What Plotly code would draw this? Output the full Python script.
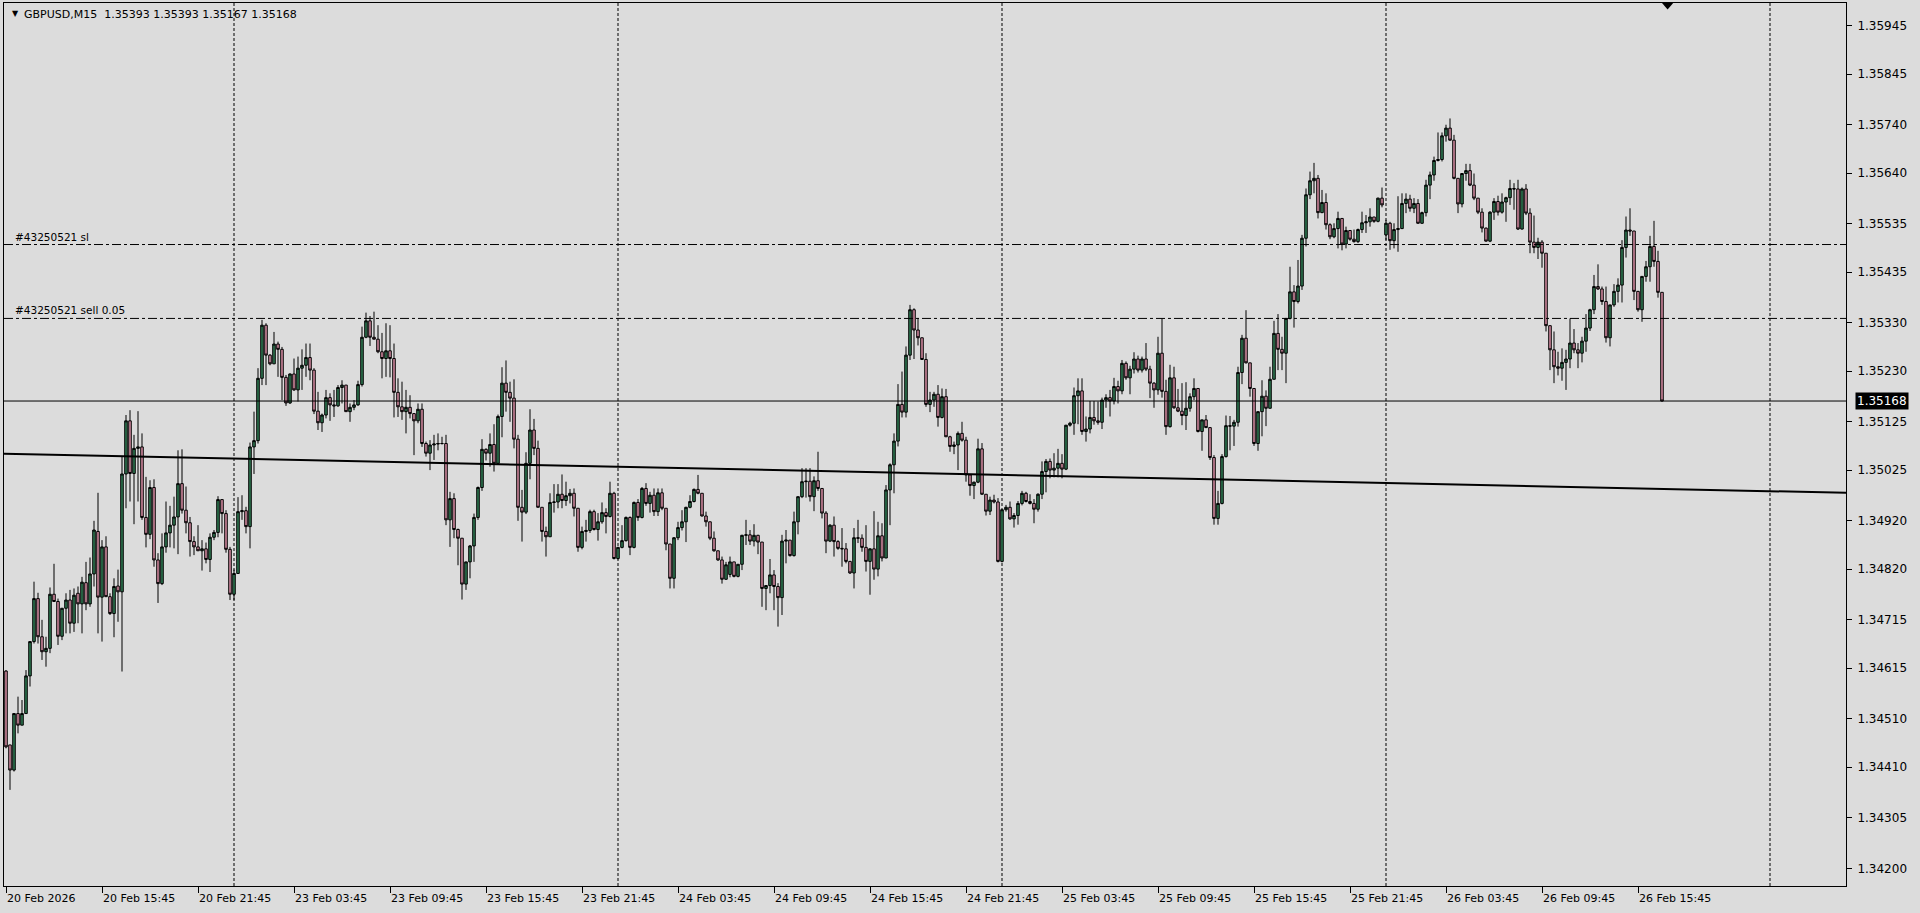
import plotly.graph_objects as go

# ---------------- data (GBPUSD M15) ----------------
open_ = [
1.34609,1.34456,1.34404,1.34521,1.34497,1.34521,1.34599,1.34670,1.34759,1.34680,
1.34649,1.34656,1.34768,1.34753,1.34681,1.34739,1.34756,1.34708,1.34770,1.34748,
1.34792,1.34748,1.34810,1.34898,1.34762,1.34866,1.34763,1.34728,1.34785,1.34773,
1.35017,1.35127,1.35018,1.35070,1.35073,1.34927,1.34892,1.34989,1.34839,1.34790,
1.34866,1.34895,1.34911,1.34928,1.34997,1.34942,1.34916,1.34877,1.34866,1.34858,
1.34862,1.34840,1.34886,1.34896,1.34964,1.34935,1.34861,1.34768,1.34811,1.34939,
1.34941,1.34908,1.35073,1.35086,1.35215,1.35325,1.35263,1.35245,1.35286,1.35275,
1.35217,1.35164,1.35224,1.35191,1.35236,1.35242,1.35258,1.35232,1.35147,1.35123,
1.35139,1.35175,1.35160,1.35158,1.35196,1.35201,1.35146,1.35155,1.35160,1.35202,
1.35300,1.35334,1.35300,1.35296,1.35270,1.35256,1.35272,1.35256,1.35186,1.35156,
1.35146,1.35155,1.35142,1.35127,1.35151,1.35080,1.35060,1.35077,1.35079,1.35080,
1.35080,1.34922,1.34966,1.34902,1.34884,1.34789,1.34835,1.34868,1.34927,1.34989,
1.35068,1.35060,1.35078,1.35039,1.35136,1.35205,1.35186,1.35174,1.35089,1.34948,
1.34938,1.35039,1.35108,1.35070,1.34948,1.34898,1.34887,1.34958,1.34959,1.34975,
1.34962,1.34972,1.34977,1.34946,1.34865,1.34898,1.34900,1.34939,1.34902,1.34918,
1.34937,1.34929,1.34977,1.34842,1.34865,1.34879,1.34927,1.34865,1.34958,1.34927,
1.34987,1.34956,1.34973,1.34939,1.34978,1.34946,1.34872,1.34801,1.34885,1.34906,
1.34918,1.34948,1.34960,1.34985,1.34977,1.34930,1.34918,1.34884,1.34858,1.34839,
1.34799,1.34809,1.34835,1.34805,1.34830,1.34890,1.34891,1.34878,1.34890,1.34876,
1.34780,1.34786,1.34808,1.34784,1.34761,1.34878,1.34880,1.34848,1.34918,1.34970,
1.35001,1.35002,1.34970,1.35003,1.34987,1.34936,1.34878,1.34911,1.34877,1.34863,
1.34862,1.34836,1.34812,1.34885,1.34884,1.34865,1.34836,1.34862,1.34820,1.34889,
1.34843,1.34984,1.35036,1.35085,1.35161,1.35145,1.35263,1.35357,1.35315,1.35299,
1.35254,1.35161,1.35170,1.35182,1.35134,1.35177,1.35094,1.35074,1.35077,1.35101,
1.35087,1.35015,1.34993,1.35000,1.35069,1.34975,1.34940,1.34963,1.34959,1.34836,
1.34943,1.34948,1.34924,1.34931,1.34956,1.34977,1.34960,1.34956,1.34944,1.34975,
1.35022,1.35043,1.35025,1.35029,1.35039,1.35027,1.35118,1.35122,1.35179,1.35189,
1.35105,1.35110,1.35134,1.35127,1.35124,1.35170,1.35175,1.35168,1.35198,1.35189,
1.35246,1.35216,1.35234,1.35255,1.35232,1.35255,1.35234,1.35205,1.35191,1.35267,
1.35188,1.35115,1.35216,1.35154,1.35147,1.35138,1.35153,1.35177,1.35194,1.35105,
1.35129,1.35113,1.35051,1.34925,1.34956,1.35053,1.35117,1.35116,1.35124,1.35227,
1.35298,1.35247,1.35194,1.35080,1.35146,1.35178,1.35153,1.35213,1.35308,1.35275,
1.35267,1.35339,1.35394,1.35374,1.35406,1.35505,1.35595,1.35624,1.35629,1.35558,
1.35579,1.35533,1.35508,1.35525,1.35546,1.35493,1.35521,1.35503,1.35498,1.35523,
1.35537,1.35539,1.35549,1.35540,1.35588,1.35512,1.35536,1.35500,1.35523,1.35525,
1.35577,1.35586,1.35567,1.35577,1.35536,1.35558,1.35615,1.35636,1.35666,1.35668,
1.35717,1.35733,1.35708,1.35629,1.35576,1.35639,1.35645,1.35615,1.35588,1.35559,
1.35526,1.35499,1.35559,1.35581,1.35559,1.35580,1.35589,1.35608,1.35607,1.35524,
1.35607,1.35557,1.35497,1.35486,1.35497,1.35474,1.35324,1.35274,1.35239,1.35236,
1.35248,1.35255,1.35288,1.35274,1.35267,1.35292,1.35319,1.35357,1.35405,1.35400,
1.35374,1.35299,1.35367,1.35395,1.35408,1.35486,1.35522,1.35520,1.35395,1.35357,
1.35426,1.35446,1.35488,1.35457,1.35393,
]

high = [
1.34611,1.34456,1.34521,1.34556,1.34549,1.34611,1.34670,1.34794,1.34771,1.34715,
1.34680,1.34782,1.34831,1.34759,1.34739,1.34770,1.34777,1.34780,1.34784,1.34804,
1.34835,1.34844,1.34920,1.34978,1.34880,1.34888,1.34770,1.34801,1.34819,1.35053,
1.35139,1.35149,1.35098,1.35147,1.35101,1.35011,1.35004,1.35006,1.34853,1.34894,
1.34960,1.34951,1.34970,1.35066,1.35068,1.34991,1.34928,1.34888,1.34911,1.34880,
1.34875,1.34894,1.34901,1.34971,1.34964,1.34942,1.34866,1.34819,1.34969,1.34973,
1.34949,1.35082,1.35146,1.35236,1.35336,1.35329,1.35265,1.35311,1.35291,1.35280,
1.35222,1.35225,1.35256,1.35260,1.35275,1.35287,1.35287,1.35236,1.35187,1.35142,
1.35191,1.35184,1.35191,1.35201,1.35211,1.35201,1.35163,1.35170,1.35210,1.35322,
1.35351,1.35344,1.35353,1.35325,1.35309,1.35329,1.35325,1.35287,1.35215,1.35208,
1.35191,1.35180,1.35142,1.35163,1.35163,1.35084,1.35087,1.35098,1.35101,1.35094,
1.35098,1.34980,1.34977,1.34904,1.34884,1.34835,1.34870,1.34935,1.34991,1.35089,
1.35070,1.35101,1.35120,1.35140,1.35238,1.35252,1.35208,1.35213,1.35098,1.34984,
1.35062,1.35151,1.35131,1.35086,1.34948,1.34908,1.34977,1.34996,1.34996,1.35016,
1.35001,1.34986,1.34987,1.34946,1.34908,1.34922,1.34943,1.34943,1.34936,1.34958,
1.34946,1.35001,1.34980,1.34866,1.34911,1.34929,1.34929,1.34960,1.34965,1.34990,
1.34998,1.34980,1.34987,1.34987,1.34987,1.34946,1.34872,1.34886,1.34918,1.34942,
1.34949,1.34973,1.34987,1.35015,1.34977,1.34939,1.34918,1.34898,1.34858,1.34846,
1.34835,1.34846,1.34835,1.34830,1.34891,1.34922,1.34901,1.34913,1.34891,1.34876,
1.34787,1.34841,1.34818,1.34791,1.34891,1.34901,1.34880,1.34939,1.34970,1.35029,
1.35029,1.35029,1.35012,1.35063,1.34987,1.34940,1.34913,1.34929,1.34880,1.34905,
1.34874,1.34837,1.34905,1.34922,1.34892,1.34911,1.34863,1.34940,1.34918,1.34915,
1.34994,1.35039,1.35101,1.35203,1.35229,1.35281,1.35367,1.35360,1.35340,1.35299,
1.35267,1.35187,1.35187,1.35201,1.35194,1.35193,1.35096,1.35084,1.35105,1.35125,
1.35094,1.35015,1.35001,1.35090,1.35081,1.34975,1.34970,1.34974,1.34967,1.34943,
1.34953,1.34960,1.34936,1.34961,1.34982,1.34980,1.34975,1.34965,1.34977,1.35043,
1.35048,1.35049,1.35060,1.35069,1.35058,1.35118,1.35125,1.35196,1.35215,1.35215,
1.35136,1.35168,1.35168,1.35167,1.35175,1.35182,1.35191,1.35216,1.35210,1.35253,
1.35250,1.35241,1.35269,1.35262,1.35260,1.35288,1.35241,1.35207,1.35301,1.35339,
1.35212,1.35243,1.35239,1.35193,1.35205,1.35207,1.35184,1.35215,1.35194,1.35129,
1.35139,1.35113,1.35056,1.34982,1.35058,1.35138,1.35137,1.35129,1.35239,1.35305,
1.35356,1.35247,1.35194,1.35146,1.35211,1.35190,1.35239,1.35334,1.35348,1.35301,
1.35339,1.35446,1.35408,1.35460,1.35512,1.35608,1.35643,1.35661,1.35636,1.35605,
1.35598,1.35536,1.35536,1.35560,1.35546,1.35529,1.35522,1.35523,1.35525,1.35560,
1.35553,1.35567,1.35549,1.35589,1.35610,1.35543,1.35539,1.35536,1.35592,1.35598,
1.35598,1.35595,1.35588,1.35586,1.35560,1.35626,1.35643,1.35674,1.35724,1.35724,
1.35740,1.35753,1.35719,1.35629,1.35640,1.35659,1.35659,1.35639,1.35588,1.35567,
1.35527,1.35561,1.35588,1.35593,1.35598,1.35591,1.35626,1.35619,1.35626,1.35610,
1.35617,1.35567,1.35552,1.35506,1.35501,1.35474,1.35324,1.35312,1.35270,1.35277,
1.35274,1.35339,1.35317,1.35288,1.35301,1.35348,1.35359,1.35429,1.35451,1.35405,
1.35405,1.35367,1.35410,1.35422,1.35501,1.35550,1.35567,1.35520,1.35396,1.35426,
1.35458,1.35510,1.35541,1.35479,1.35393,
]

low = [
1.34449,1.34363,1.34401,1.34480,1.34497,1.34521,1.34577,1.34666,1.34666,1.34632,
1.34618,1.34646,1.34753,1.34663,1.34673,1.34687,1.34687,1.34690,1.34708,1.34687,
1.34735,1.34742,1.34784,1.34687,1.34670,1.34763,1.34725,1.34679,1.34711,1.34608,
1.34946,1.34960,1.34913,1.34960,1.34922,1.34865,1.34882,1.34825,1.34750,1.34787,
1.34854,1.34865,1.34863,1.34851,1.34935,1.34894,1.34846,1.34849,1.34858,1.34817,
1.34832,1.34814,1.34880,1.34886,1.34894,1.34854,1.34756,1.34756,1.34810,1.34922,
1.34894,1.34863,1.35017,1.35080,1.35201,1.35201,1.35242,1.35245,1.35218,1.35170,
1.35158,1.35162,1.35189,1.35167,1.35191,1.35218,1.35211,1.35141,1.35108,1.35104,
1.35132,1.35127,1.35135,1.35156,1.35163,1.35146,1.35125,1.35149,1.35158,1.35198,
1.35298,1.35282,1.35296,1.35267,1.35215,1.35218,1.35217,1.35134,1.35135,1.35129,
1.35101,1.35132,1.35056,1.35122,1.35073,1.35053,1.35025,1.35046,1.35066,1.35078,
1.34911,1.34866,1.34884,1.34828,1.34757,1.34777,1.34801,1.34835,1.34922,1.34982,
1.35045,1.35032,1.35022,1.35038,1.35093,1.35146,1.35125,1.35070,1.34920,1.34877,
1.34934,1.35006,1.35056,1.34948,1.34877,1.34846,1.34887,1.34937,1.34946,1.34946,
1.34951,1.34956,1.34929,1.34856,1.34861,1.34877,1.34895,1.34900,1.34879,1.34914,
1.34894,1.34927,1.34840,1.34840,1.34863,1.34877,1.34849,1.34863,1.34920,1.34925,
1.34951,1.34937,1.34930,1.34930,1.34942,1.34859,1.34780,1.34780,1.34880,1.34900,
1.34876,1.34946,1.34958,1.34975,1.34929,1.34908,1.34880,1.34856,1.34837,1.34790,
1.34798,1.34803,1.34803,1.34803,1.34818,1.34870,1.34870,1.34867,1.34851,1.34742,
1.34735,1.34770,1.34735,1.34701,1.34725,1.34832,1.34846,1.34846,1.34892,1.34967,
1.34968,1.34960,1.34940,1.34982,1.34925,1.34853,1.34876,1.34846,1.34860,1.34825,
1.34832,1.34810,1.34780,1.34874,1.34856,1.34815,1.34767,1.34798,1.34805,1.34836,
1.34843,1.34911,1.34977,1.35074,1.35134,1.35134,1.35253,1.35255,1.35283,1.35253,
1.35156,1.35145,1.35156,1.35115,1.35132,1.35094,1.35063,1.35058,1.35025,1.35084,
1.35001,1.34972,1.34965,1.34998,1.34974,1.34931,1.34932,1.34956,1.34834,1.34834,
1.34939,1.34922,1.34906,1.34912,1.34952,1.34958,1.34954,1.34915,1.34939,1.34965,
1.34979,1.35008,1.35010,1.35010,1.35008,1.35025,1.35115,1.35098,1.35120,1.35098,
1.35084,1.35101,1.35119,1.35119,1.35110,1.35154,1.35136,1.35161,1.35163,1.35182,
1.35212,1.35182,1.35225,1.35227,1.35227,1.35230,1.35174,1.35154,1.35181,1.35175,
1.35098,1.35113,1.35152,1.35145,1.35118,1.35108,1.35146,1.35170,1.35103,1.35065,
1.35112,1.35046,1.34912,1.34912,1.34954,1.35051,1.35066,1.35075,1.35115,1.35203,
1.35246,1.35177,1.35075,1.35065,1.35095,1.35116,1.35153,1.35213,1.35232,1.35232,
1.35205,1.35337,1.35320,1.35370,1.35398,1.35488,1.35586,1.35598,1.35546,1.35557,
1.35523,1.35503,1.35505,1.35484,1.35480,1.35484,1.35500,1.35496,1.35495,1.35516,
1.35516,1.35529,1.35537,1.35538,1.35569,1.35501,1.35481,1.35484,1.35477,1.35524,
1.35557,1.35560,1.35557,1.35535,1.35535,1.35550,1.35586,1.35624,1.35664,1.35664,
1.35705,1.35707,1.35627,1.35557,1.35569,1.35624,1.35613,1.35584,1.35555,1.35517,
1.35498,1.35497,1.35543,1.35552,1.35556,1.35539,1.35574,1.35564,1.35522,1.35523,
1.35553,1.35474,1.35474,1.35462,1.35444,1.35312,1.35232,1.35205,1.35221,1.35210,
1.35191,1.35236,1.35267,1.35236,1.35248,1.35270,1.35313,1.35348,1.35398,1.35367,
1.35289,1.35281,1.35363,1.35372,1.35372,1.35465,1.35510,1.35377,1.35353,1.35332,
1.35415,1.35415,1.35446,1.35382,1.35167,
]

close = [
1.34452,1.34404,1.34521,1.34497,1.34521,1.34599,1.34670,1.34759,1.34680,1.34649,
1.34656,1.34768,1.34753,1.34681,1.34739,1.34756,1.34708,1.34766,1.34748,1.34793,
1.34748,1.34810,1.34901,1.34762,1.34866,1.34763,1.34728,1.34784,1.34773,1.35017,
1.35127,1.35018,1.35070,1.35073,1.34927,1.34892,1.34989,1.34839,1.34790,1.34866,
1.34895,1.34911,1.34928,1.34997,1.34942,1.34916,1.34877,1.34866,1.34858,1.34862,
1.34840,1.34886,1.34896,1.34964,1.34935,1.34861,1.34768,1.34811,1.34939,1.34941,
1.34908,1.35073,1.35086,1.35215,1.35325,1.35263,1.35245,1.35286,1.35275,1.35217,
1.35164,1.35224,1.35191,1.35236,1.35242,1.35258,1.35232,1.35147,1.35123,1.35139,
1.35175,1.35160,1.35158,1.35196,1.35201,1.35146,1.35155,1.35160,1.35202,1.35300,
1.35334,1.35300,1.35296,1.35270,1.35256,1.35272,1.35256,1.35186,1.35156,1.35146,
1.35155,1.35142,1.35127,1.35151,1.35080,1.35060,1.35077,1.35079,1.35080,1.35080,
1.34922,1.34966,1.34902,1.34884,1.34789,1.34835,1.34868,1.34927,1.34989,1.35068,
1.35060,1.35078,1.35039,1.35136,1.35205,1.35186,1.35174,1.35089,1.34948,1.34938,
1.35039,1.35108,1.35070,1.34948,1.34898,1.34887,1.34958,1.34959,1.34975,1.34962,
1.34972,1.34977,1.34946,1.34865,1.34898,1.34900,1.34939,1.34902,1.34918,1.34937,
1.34929,1.34977,1.34842,1.34865,1.34879,1.34927,1.34865,1.34958,1.34927,1.34987,
1.34956,1.34973,1.34939,1.34978,1.34946,1.34872,1.34801,1.34885,1.34906,1.34918,
1.34948,1.34960,1.34985,1.34977,1.34930,1.34918,1.34884,1.34858,1.34839,1.34799,
1.34829,1.34835,1.34805,1.34830,1.34890,1.34891,1.34878,1.34890,1.34876,1.34780,
1.34786,1.34808,1.34784,1.34761,1.34878,1.34880,1.34848,1.34918,1.34970,1.35001,
1.35002,1.34970,1.35003,1.34987,1.34936,1.34878,1.34911,1.34877,1.34863,1.34862,
1.34836,1.34812,1.34885,1.34884,1.34865,1.34836,1.34862,1.34820,1.34889,1.34843,
1.34984,1.35036,1.35085,1.35161,1.35145,1.35263,1.35357,1.35315,1.35299,1.35254,
1.35161,1.35170,1.35182,1.35134,1.35177,1.35094,1.35074,1.35077,1.35101,1.35087,
1.35015,1.34993,1.35000,1.35069,1.34975,1.34940,1.34963,1.34959,1.34836,1.34943,
1.34948,1.34924,1.34931,1.34956,1.34977,1.34960,1.34956,1.34944,1.34975,1.35022,
1.35043,1.35025,1.35029,1.35039,1.35027,1.35118,1.35122,1.35179,1.35189,1.35105,
1.35110,1.35134,1.35127,1.35124,1.35170,1.35175,1.35168,1.35198,1.35189,1.35246,
1.35216,1.35234,1.35255,1.35232,1.35255,1.35234,1.35205,1.35191,1.35267,1.35188,
1.35115,1.35216,1.35154,1.35147,1.35138,1.35153,1.35177,1.35194,1.35105,1.35129,
1.35113,1.35051,1.34925,1.34956,1.35053,1.35117,1.35116,1.35124,1.35227,1.35298,
1.35247,1.35194,1.35080,1.35146,1.35178,1.35153,1.35213,1.35308,1.35275,1.35267,
1.35339,1.35394,1.35374,1.35406,1.35505,1.35595,1.35624,1.35629,1.35558,1.35579,
1.35533,1.35508,1.35525,1.35546,1.35493,1.35521,1.35503,1.35498,1.35523,1.35537,
1.35539,1.35549,1.35540,1.35588,1.35574,1.35536,1.35500,1.35523,1.35525,1.35577,
1.35586,1.35567,1.35577,1.35536,1.35558,1.35615,1.35636,1.35666,1.35668,1.35717,
1.35733,1.35708,1.35629,1.35576,1.35639,1.35645,1.35615,1.35588,1.35559,1.35526,
1.35499,1.35559,1.35581,1.35559,1.35580,1.35589,1.35608,1.35607,1.35524,1.35607,
1.35557,1.35497,1.35486,1.35497,1.35474,1.35324,1.35274,1.35239,1.35236,1.35248,
1.35255,1.35288,1.35274,1.35267,1.35292,1.35319,1.35357,1.35405,1.35400,1.35374,
1.35299,1.35367,1.35395,1.35408,1.35486,1.35522,1.35520,1.35395,1.35357,1.35426,
1.35446,1.35488,1.35457,1.35393,1.35168,
]

# time axis labels (one every 24 bars of 15 minutes)
time_tick_bars = [0, 24, 48, 72, 96, 120, 144, 168, 192, 216, 240, 264, 288, 312, 336, 360, 384, 408]
time_tick_labels = ["20 Feb 2026", "20 Feb 15:45", "20 Feb 21:45", "23 Feb 03:45", "23 Feb 09:45",
                    "23 Feb 15:45", "23 Feb 21:45", "24 Feb 03:45", "24 Feb 09:45", "24 Feb 15:45",
                    "24 Feb 21:45", "25 Feb 03:45", "25 Feb 09:45", "25 Feb 15:45", "25 Feb 21:45",
                    "26 Feb 03:45", "26 Feb 09:45", "26 Feb 15:45"]
day_start_bars = [57, 153, 249, 345, 441]

price_ticks = [1.35945, 1.35845, 1.35740, 1.35640, 1.35535, 1.35435, 1.35330, 1.35230, 1.35125,
               1.35025, 1.34920, 1.34820, 1.34715, 1.34615, 1.34510, 1.34410, 1.34305, 1.34200]

header_text = "GBPUSD,M15\u00a0\u00a01.35393 1.35393 1.35167 1.35168"
sl_price = 1.35492
sl_label = "#43250521 sl"
entry_price = 1.35339
entry_label = "#43250521 sell 0.05"
bid_price = 1.35168
trend_x = [-0.5, 460]
trend_y = [1.35059, 1.34978]
shift_bar = 415.4

# ---------------- styling ----------------
BG = "#DCDCDC"
BULL = "#2F7A52"
BEAR = "#D88DA5"
FONT = "DejaVu Sans"
X_RANGE = [-0.5, 460]
Y_RANGE = [1.34164, 1.35992]

n = len(close)
assert len(open_) == n and len(high) == n and len(low) == n, (len(open_), len(high), len(low), n)
bars = list(range(n))

fig = go.Figure()
fig.add_trace(go.Candlestick(
    x=bars, open=open_, high=high, low=low, close=close,
    increasing=dict(fillcolor=BULL, line=dict(color="black", width=1)),
    decreasing=dict(fillcolor=BEAR, line=dict(color="black", width=1)),
    whiskerwidth=0, hoverinfo="skip", showlegend=False,
))

shapes = []
for d in day_start_bars:
    shapes.append(dict(type="line", xref="x", yref="paper", x0=d, x1=d, y0=0, y1=1,
                       line=dict(color="black", width=1, dash="3px,2px"), layer="below"))
for p in (sl_price, entry_price):
    shapes.append(dict(type="line", xref="paper", yref="y", x0=0, x1=1, y0=p, y1=p,
                       line=dict(color="black", width=1, dash="9px,3px,3px,3px"), layer="above"))
shapes.append(dict(type="line", xref="paper", yref="y", x0=0, x1=1, y0=bid_price, y1=bid_price,
                   line=dict(color="black", width=1), layer="above"))
shapes.append(dict(type="line", xref="x", yref="y", x0=trend_x[0], x1=trend_x[1],
                   y0=trend_y[0], y1=trend_y[1], line=dict(color="black", width=2), layer="above"))
shapes.append(dict(type="path", xref="x", yref="paper",
                   path=f"M {shift_bar-1.4},1 L {shift_bar+1.4},1 L {shift_bar},0.9925 Z",
                   fillcolor="black", line=dict(color="black", width=0)))

annotations = [
    dict(xref="paper", yref="paper", x=0, y=1, xanchor="left", yanchor="top", xshift=6, yshift=-4,
         text="\u25BC", showarrow=False, font=dict(family=FONT, size=8, color="black")),
    dict(xref="paper", yref="paper", x=0, y=1, xanchor="left", yanchor="top", xshift=18, yshift=-3,
         text=header_text, showarrow=False, font=dict(family=FONT, size=11, color="black")),
    dict(xref="paper", yref="y", x=0, y=sl_price, xanchor="left", yanchor="bottom", xshift=9, yshift=0,
         text=sl_label, showarrow=False, font=dict(family=FONT, size=10.5, color="black")),
    dict(xref="paper", yref="y", x=0, y=entry_price, xanchor="left", yanchor="bottom", xshift=9, yshift=0,
         text=entry_label, showarrow=False, font=dict(family=FONT, size=10.5, color="black")),
    dict(xref="paper", yref="y", x=1, y=bid_price, xanchor="left", yanchor="middle", xshift=9,
         text=f"{bid_price:.5f}", showarrow=False, bgcolor="black", borderpad=1,
         font=dict(family=FONT, size=12, color="white")),
]

fig.update_layout(
    width=1920, height=913,
    margin=dict(l=4, r=74, t=3, b=27),
    paper_bgcolor=BG, plot_bgcolor=BG,
    font=dict(family=FONT, color="black"),
    showlegend=False,
    boxgap=0.2, boxgroupgap=0.2,
    shapes=shapes, annotations=annotations,
    hovermode=False,
    xaxis=dict(range=X_RANGE, rangeslider=dict(visible=False), showgrid=False, zeroline=False,
               showline=True, mirror=True, linecolor="black", linewidth=1,
               tickmode="array", tickvals=time_tick_bars, ticktext=time_tick_labels,
               ticks="outside", ticklen=6, tickcolor="black", ticklabelposition="outside right",
               ticklabelstandoff=2,
               tickfont=dict(family=FONT, size=11, color="black"), fixedrange=True),
    yaxis=dict(range=Y_RANGE, side="right", showgrid=False, zeroline=False,
               showline=True, mirror=True, linecolor="black", linewidth=1,
               tickmode="array", tickvals=price_ticks, ticktext=[f"{v:.5f}" for v in price_ticks],
               ticks="outside", ticklen=5, tickcolor="black", ticklabelstandoff=3,
               tickfont=dict(family=FONT, size=12, color="black"), fixedrange=True),
)

fig.write_html("out.html", config=dict(displayModeBar=False, staticPlot=True),
               post_script="document.body.style.margin='0px';document.body.style.overflow='hidden';"
                           "document.body.style.background='" + BG + "';")
